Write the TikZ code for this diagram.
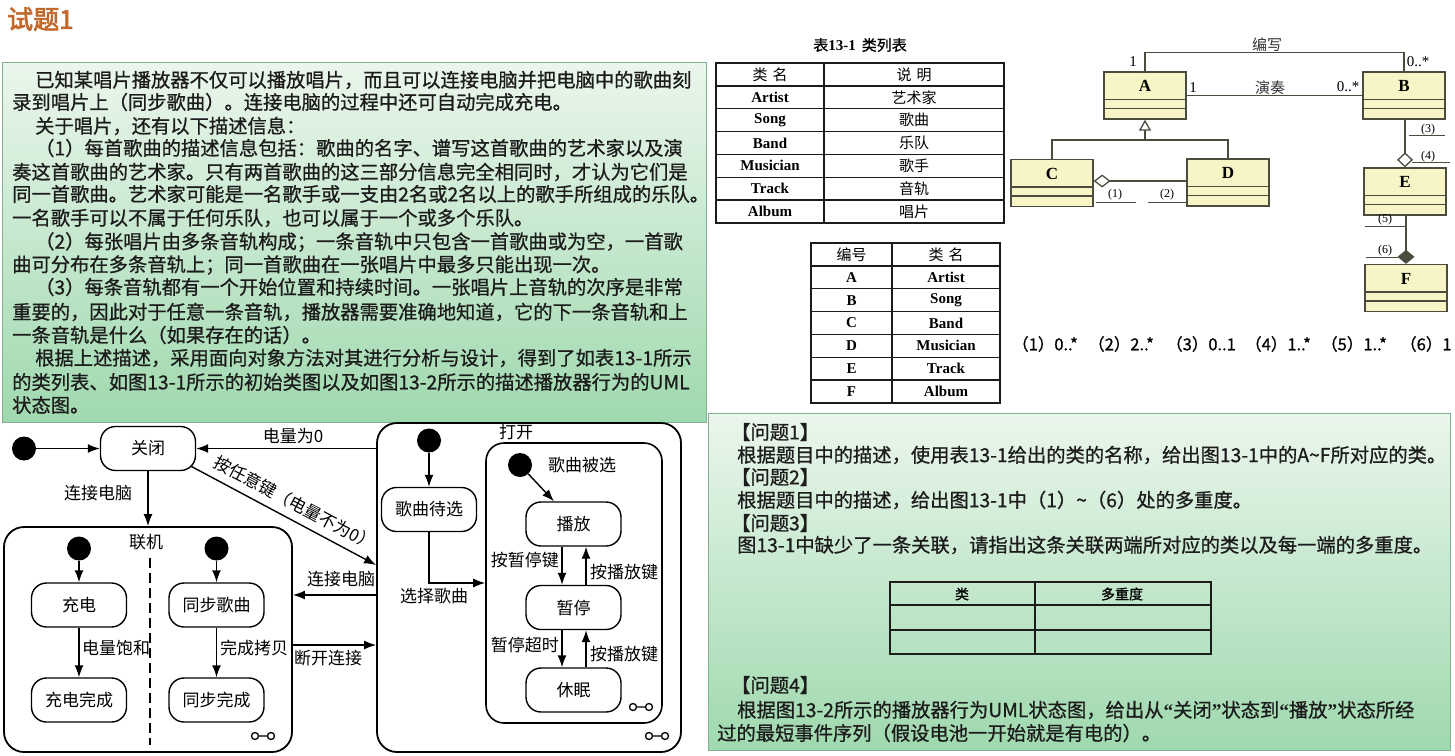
\documentclass[tikz,border=0pt]{standalone}
\usepackage{fontspec}
\setmainfont{Noto Sans CJK SC}
\newfontfamily\cjkb[FakeBold=0.8]{Noto Sans CJK SC}
\newfontfamily\cjkbb[FakeBold=2.5]{Noto Sans CJK SC}
\newfontfamily\tms{Liberation Serif}
\usetikzlibrary{arrows.meta,calc}
\definecolor{titleor}{HTML}{C2682A}
\definecolor{pgtop}{HTML}{EBF6EC}
\definecolor{pgbot}{HTML}{9FD9AE}
\definecolor{pborder}{HTML}{86AE92}
\definecolor{clsfill}{HTML}{F7F5C6}
\definecolor{clsline}{HTML}{4B4B3E}
\definecolor{ink}{HTML}{1C1C1C}
\begin{document}
\begin{tikzpicture}[x=1pt,y=-1pt,
  body/.style={anchor=west,inner sep=0pt,text=ink,font=\cjkb\fontsize{19.3}{19.3}\selectfont},
  stt/.style={draw,line width=1.4pt,rounded corners=15pt,minimum width=95pt,minimum height=44pt,inner sep=0pt,font=\fontsize{17}{17}\selectfont},
  comp/.style={draw,line width=1.8pt,rounded corners=20pt,inner sep=0pt},
  lbl/.style={inner sep=0pt,font=\fontsize{17}{17}\selectfont},
  initd/.style={circle,fill=black,minimum size=24pt,inner sep=0pt},
  arr/.style={line width=1.4pt,-{Latex[length=12pt,width=9pt]}},
  cls/.style={draw=clsline,fill=clsfill,line width=1.3pt,minimum width=82pt,minimum height=47pt,inner sep=0pt},
  cline/.style={draw=clsline,line width=1.3pt},
  cname/.style={font=\tms\bfseries\fontsize{17}{17}\selectfont,inner sep=0pt},
  clab/.style={font=\fontsize{15}{15}\selectfont,inner sep=0pt,text=black!80},
  mult/.style={font=\tms\fontsize{15}{15}\selectfont,inner sep=0pt},
  sml/.style={font=\tms\fontsize{12}{12}\selectfont,inner sep=0pt},
  tlat/.style={font=\tms\bfseries\fontsize{15}{15}\selectfont,inner sep=0pt},
  tcjk/.style={font=\fontsize{15}{15}\selectfont,inner sep=0pt},
  ans/.style={anchor=west,inner sep=0pt,font=\cjkb\fontsize{16.5}{16.5}\selectfont},
  oo/.pic={\draw[line width=1.3pt] (-8,0) circle (3.5pt) (8,0) circle (3.5pt) (-4.5,0) -- (4.5,0);}
]
\useasboundingbox (0,0) rectangle (1455,755);
\fill[white] (0,0) rectangle (1455,755);

% title
\node[anchor=west,inner sep=0pt,text=titleor,font=\cjkbb\fontsize{26}{26}\selectfont] (title) at (7,19) {试题1};

% left panel
\shade[top color=pgtop,bottom color=pgbot,draw=pborder,line width=1pt] (2,62) rectangle (706,422);
\node[body] (l1) at (35,80) {已知某唱片播放器不仅可以播放唱片，而且可以连接电脑并把电脑中的歌曲刻};
\node[body] (l2) at (12,102) {录到唱片上（同步歌曲）。连接电脑的过程中还可自动完成充电。};
\node[body] (l3) at (35,126) {关于唱片，还有以下描述信息：};
\node[body] (l4) at (35,148) {（1）每首歌曲的描述信息包括：歌曲的名字、谱写这首歌曲的艺术家以及演};
\node[body] (l5) at (12,172) {奏这首歌曲的艺术家。只有两首歌曲的这三部分信息完全相同时，才认为它们是};
\node[body] (l6) at (12,194) {同一首歌曲。艺术家可能是一名歌手或一支由2名或2名以上的歌手所组成的乐队。};
\node[body] (l7) at (12,218) {一名歌手可以不属于任何乐队，也可以属于一个或多个乐队。};
\node[body] (l8) at (35,242) {（2）每张唱片由多条音轨构成；一条音轨中只包含一首歌曲或为空，一首歌};
\node[body] (l9) at (12,265) {曲可分布在多条音轨上；同一首歌曲在一张唱片中最多只能出现一次。};
\node[body] (l10) at (35,287) {（3）每条音轨都有一个开始位置和持续时间。一张唱片上音轨的次序是非常};
\node[body] (l11) at (12,312) {重要的，因此对于任意一条音轨，播放器需要准确地知道，它的下一条音轨和上};
\node[body] (l12) at (12,335) {一条音轨是什么（如果存在的话）。};
\node[body] (l13) at (35,358) {根据上述描述，采用面向对象方法对其进行分析与设计，得到了如表13-1所示};
\node[body] (l14) at (12,382) {的类列表、如图13-1所示的初始类图以及如图13-2所示的描述播放器行为的UML};
\node[body] (l15) at (12,405) {状态图。};

% right panel
\shade[top color=pgtop,bottom color=pgbot,draw=pborder,line width=1pt] (708,413) rectangle (1450,750);
\node[body] (q1) at (731,432) {【问题1】};
\node[body] (q1t) at (737,455) {根据题目中的描述，使用表13-1给出的类的名称，给出图13-1中的A\textasciitilde F所对应的类。};
\node[body] (q2) at (731,477) {【问题2】};
\node[body] (q2t) at (737,500) {根据题目中的描述，给出图13-1中（1）\textasciitilde（6）处的多重度。};
\node[body] (q3) at (731,523) {【问题3】};
\node[body] (q3t) at (737,545) {图13-1中缺少了一条关联，请指出这条关联两端所对应的类以及每一端的多重度。};
\node[body] (q4) at (731,685) {【问题4】};
\node[body] (q4t) at (737,710) {根据图13-2所示的播放器行为UML状态图，给出从{\tms\bfseries “}关闭{\tms\bfseries ”}状态到{\tms\bfseries “}播放{\tms\bfseries ”}状态所经};
\node[body] (q4u) at (717,733) {过的最短事件序列（假设电池一开始就是有电的）。};
% answer table
\draw[line width=1.2pt,ink] (890,582) rectangle (1211,654) (1035,582) -- (1035,654) (890,605) -- (1211,605) (890,630) -- (1211,630);
\node[tcjk,font=\cjkb\fontsize{14}{14}\selectfont] (th1) at (962,594) {类};
\node[tcjk,font=\cjkb\fontsize{14}{14}\selectfont] (th2) at (1122,594) {多重度};

% table 13-1
\node[font=\cjkb\fontsize{15}{15}\selectfont,inner sep=0pt] (tt) at (860,45) {表{\tms\bfseries 13-1}\hspace{6pt}类列表};
\draw[line width=1.3pt,ink] (716,63) rectangle (1004,223) (824,63) -- (824,223);
\foreach \k in {1,...,6} \draw[line width=1.3pt,ink] (716,{63+22.857*\k}) -- (1004,{63+22.857*\k});
\node[tcjk] at (770,74.4) {类\hspace{5pt}名};
\node[tcjk] at (914,74.4) {说\hspace{5pt}明};
\foreach \a/\b [count=\i] in {Artist/艺术家,Song/歌曲,Band/乐队,Musician/歌手,Track/音轨,Album/唱片}{
  \node[tlat] at (770,{74.4+22.857*\i}) {\a};
  \node[tcjk] at (914,{74.4+22.857*\i}) {\b};
}
% table 2
\draw[line width=1.3pt,ink] (811,243) rectangle (1000,403) (892,243) -- (892,403);
\foreach \k in {1,...,6} \draw[line width=1.3pt,ink] (811,{243+22.857*\k}) -- (1000,{243+22.857*\k});
\node[tcjk] at (851.5,254.4) {编号};
\node[tcjk] at (946,254.4) {类\hspace{5pt}名};
\foreach \a/\b [count=\i] in {A/Artist,B/Song,C/Band,D/Musician,E/Track,F/Album}{
  \node[tlat] at (851.5,{254.4+22.857*\i}) {\a};
  \node[tlat] at (946,{254.4+22.857*\i}) {\b};
}

% class diagram
\node[cls] (A) at (1145,95.5) {};
\node[cls] (B) at (1404,95.5) {};
\node[cls] (C) at (1052,183) {};
\node[cls] (D) at (1228,182.5) {};
\node[cls] (E) at (1405,191.5) {};
\node[cls] (F) at (1406,288) {};
\foreach \n in {A,B,C,D,E,F}{
  \draw[cline] ($(\n.north west)+(0,28)$) -- ($(\n.north east)+(0,28)$);
  \draw[cline] ($(\n.north west)+(0,37)$) -- ($(\n.north east)+(0,37)$);
  \node[cname] at ($(\n.north)+(0,15)$) {\n};
}
\draw[cline] (A.north) -- ++(0,-19) -| (B.north);
\draw[cline] (A.east) -- (B.west);
\draw[cline] (C.north) -- ++(0,-19) -| (D.north);
\draw[cline,-{Triangle[length=11pt,width=12pt,fill=white]}] ($(A.south)+(0,21)$) -- (A.south);
\draw[cline,{Diamond[length=17pt,width=13pt,fill=white]}-] ($(C.east)+(0,-2)$) -- ($(D.west)+(0,-1.5)$);
\draw[cline,{Diamond[length=15pt,width=16pt,fill=white]}-] (E.north) -- (E.north |- B.south);
\draw[cline,{Diamond[length=14pt,width=17pt]}-] (F.north) -- (F.north |- E.south);
\node[clab] at (1267,45) {编写};
\node[mult] at (1133,62) {1};
\node[mult] at (1418,62) {0..*};
\node[clab] at (1270,88) {演奏};
\node[mult] at (1193,88) {1};
\node[mult] at (1348,87) {0..*};
\node[sml] at (1115,195) {(1)};
\draw[cline,line width=1pt] (1096,202) -- (1136,202);
\node[sml] at (1167,195) {(2)};
\draw[cline,line width=1pt] (1148,202) -- (1187,202);
\node[sml] at (1428,130) {(3)};
\draw[cline,line width=1pt] (1409,135) -- (1445,135);
\node[sml] at (1428,157) {(4)};
\draw[cline,line width=1pt] (1412,162) -- (1450,162);
\node[sml] at (1385,220) {(5)};
\draw[cline,line width=1pt] (1365,226) -- (1405,226);
\node[sml] at (1385,251) {(6)};
\draw[cline,line width=1pt] (1366,257) -- (1398,257);
% answers
\node[ans] at (1012,344) {（1）0..*};
\node[ans] at (1088,344) {（2）2..*};
\node[ans] at (1166,344) {（3）0..1};
\node[ans] at (1245,344) {（4）1..*};
\node[ans] at (1321,344) {（5）1..*};
\node[ans] at (1400,344) {（6）1};

% state diagram
\node[initd] (i0) at (24,448.5) {};
\node[stt] (guanbi) at (148,448.5) {关闭};
\draw[arr] (i0) -- (guanbi);
\node[comp,minimum width=288pt,minimum height=225pt] (lianji) at (148,639.5) {};
\node[comp,minimum width=304pt,minimum height=329pt] (dakai) at (529,587.5) {};
\node[comp,line width=1.6pt,rounded corners=18pt,minimum width=176pt,minimum height=280pt] (beixuan) at (574,583) {};
\node[lbl] at (146,542) {联机};
\node[lbl] at (516,432) {打开};
\node[lbl] at (582,465) {歌曲被选};

\draw[arr] (dakai.west |- guanbi.east) -- (guanbi.east);
\node[lbl] at (293,436) {电量为0};
\draw[arr] ($(guanbi.south east)+(-4.7,-4.7)$) -- ($(dakai.west)+(0,-22.5)$);
\node[lbl,rotate=-28] at (295,503) {按任意键（电量不为0）};
\draw[arr] (guanbi.south) -- (lianji.north);
\node[lbl] at (98,493) {连接电脑};
\draw[arr] ($(dakai.west)+(0,7.5)$) -- ($(lianji.east)+(0,-44.5)$);
\node[lbl] at (341,579) {连接电脑};
\draw[arr] ($(lianji.east)+(0,5.5)$) -- ($(dakai.west)+(0,57.5)$);
\node[lbl] at (328,658) {断开连接};

% inside lianji
\node[initd] (i1) at (79,548.5) {};
\node[initd] (i2) at (216.5,548.5) {};
\node[stt] (chong) at (79,605) {充电};
\node[stt] (tongbu) at (216.5,605) {同步歌曲};
\node[stt] (chongwan) at (79,700) {充电完成};
\node[stt] (tongwan) at (216.5,700) {同步完成};
\draw[arr] (i1) -- (chong);
\draw[arr] (i2) -- (tongbu);
\draw[arr] (chong) -- (chongwan);
\draw[arr] (tongbu) -- (tongwan);
\node[lbl,anchor=west] at (82,648) {电量饱和};
\node[lbl,anchor=west] at (220,648) {完成拷贝};
\draw[line width=1.6pt,dash pattern=on 10pt off 5pt] (150,558) -- (150,745);
\pic at (263,736) {oo};

% inside dakai
\node[initd] (i3) at (429,440.5) {};
\node[stt] (daixuan) at (429,509.5) {歌曲待选};
\draw[arr] (i3) -- (daixuan);
\draw[arr] (daixuan.south) |- (beixuan.west);
\node[lbl] at (434,596) {选择歌曲};
\node[initd] (i4) at (520,465) {};
\node[stt] (bofang) at (573.5,524) {播放};
\node[stt] (zanting) at (573.5,607.5) {暂停};
\node[stt] (xiumian) at (573.5,690) {休眠};
\draw[arr] (i4) -- ($(bofang.north)+(-19.5,0)$);
\draw[arr] ([xshift=-11.5pt]bofang.south) -- ([xshift=-11.5pt]zanting.north);
\draw[arr] ([xshift=12.5pt]zanting.north) -- ([xshift=12.5pt]bofang.south);
\draw[arr] ([xshift=-11.5pt]zanting.south) -- ([xshift=-11.5pt]xiumian.north);
\draw[arr] ([xshift=12.5pt]xiumian.north) -- ([xshift=12.5pt]zanting.south);
\node[lbl,anchor=east] at (559,560) {按暂停键};
\node[lbl,anchor=west] at (590,572) {按播放键};
\node[lbl,anchor=east] at (559,645) {暂停超时};
\node[lbl,anchor=west] at (590,654) {按播放键};
\pic at (641,707) {oo};
\pic at (657,736) {oo};
\end{tikzpicture}
\end{document}
